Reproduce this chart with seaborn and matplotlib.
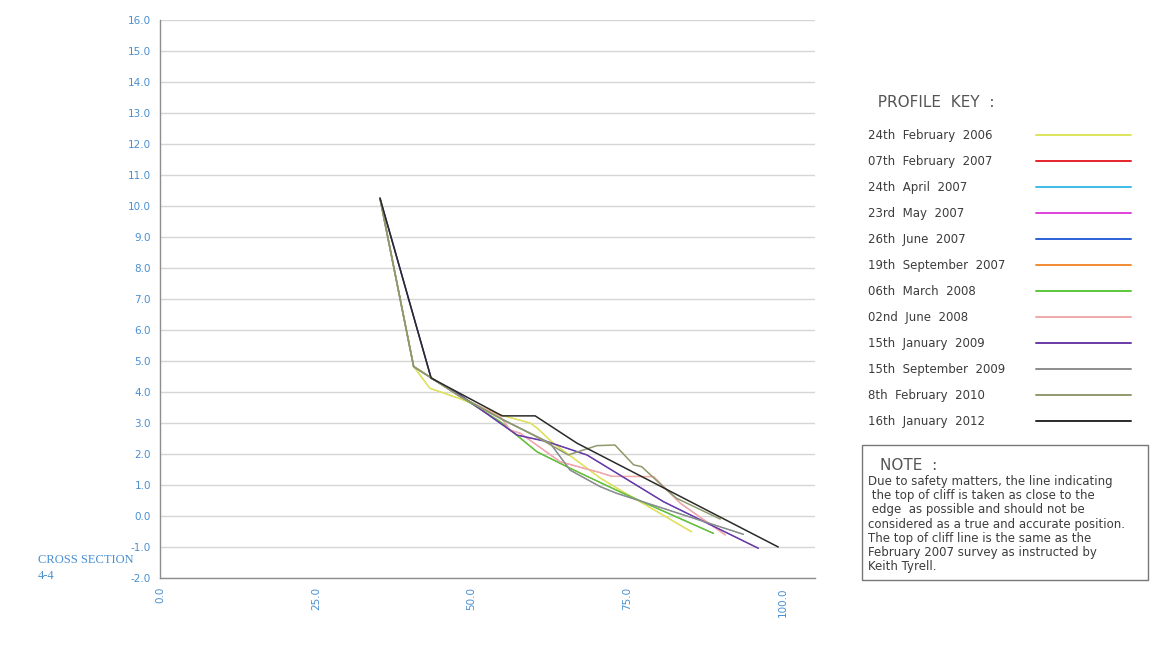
import numpy as np
import matplotlib
matplotlib.use("Agg")
import matplotlib.pyplot as plt
import seaborn as sns
from matplotlib.patches import Rectangle
from matplotlib.ticker import FormatStrFormatter

# Survey dates shown in the profile key
survey_labels = [
    "24th  February  2006",
    "07th  February  2007",
    "24th  April  2007",
    "23rd  May  2007",
    "26th  June  2007",
    "19th  September  2007",
    "06th  March  2008",
    "02nd  June  2008",
    "15th  January  2009",
    "15th  September  2009",
    "8th  February  2010",
    "16th  January  2012",
]
survey_colors = [
    "#dde55a", "#e3232b", "#3dbde6", "#e040dc", "#2b5fd6", "#f08c32",
    "#5cc63c", "#f0aaa8", "#6b3aa6", "#8c8c8c", "#8f9a6c", "#2a2a2a",
]

# Chainage (m) and level (m) along cross section 4-4 for each survey
x_2006_02 = [35.3, 40.7, 43.3, 48.2, 54.6, 59.4, 60.5, 63.1, 70.6, 73.8, 85.3]
y_2006_02 = [10.25, 4.82, 4.12, 3.78, 3.26, 3.00, 2.84, 2.35, 1.23, 0.84, -0.51]

x_2007_02 = [35.3, 40.7, 48.2, 54.6, 60.5, 65.8, 73.8, 88.8]
y_2007_02 = [10.25, 4.82, 3.85, 3.04, 2.07, 1.54, 0.78, -0.56]

x_2007_04 = [35.3, 40.7, 48.2, 54.6, 58.8, 62.6, 65.8, 70.6, 73.3, 93.6]
y_2007_04 = [10.25, 4.82, 3.85, 3.15, 2.73, 2.35, 1.48, 0.95, 0.73, -0.59]

x_2007_05 = [35.3, 40.7, 48.2, 54.6, 56.2, 57.8, 64.2, 70.6, 72.5, 79.2, 83.5, 90.7]
y_2007_05 = [10.25, 4.82, 3.85, 3.20, 2.77, 2.67, 1.75, 1.40, 1.28, 1.27, 0.41, -0.61]

x_2007_06 = [35.3, 43.5, 48.2, 57.3, 62.1, 68.5, 73.8, 80.8, 96.0]
y_2007_06 = [10.25, 4.45, 3.90, 2.61, 2.40, 1.97, 1.32, 0.46, -1.04]

x_2007_09 = [35.3, 40.7, 43.3, 48.2, 54.6, 59.4, 60.5, 63.1, 70.6, 73.8, 85.3]
y_2007_09 = [10.25, 4.82, 4.12, 3.78, 3.26, 3.00, 2.84, 2.35, 1.23, 0.84, -0.51]

x_2008_03 = [35.3, 40.7, 48.2, 54.6, 60.5, 65.8, 73.8, 88.8]
y_2008_03 = [10.25, 4.82, 3.85, 3.04, 2.07, 1.54, 0.78, -0.56]

x_2008_06 = [35.3, 40.7, 48.2, 54.6, 56.2, 57.8, 64.2, 70.6, 72.5, 79.2, 83.5, 90.7]
y_2008_06 = [10.25, 4.82, 3.85, 3.20, 2.77, 2.67, 1.75, 1.40, 1.28, 1.27, 0.41, -0.61]

x_2009_01 = [35.3, 43.5, 48.2, 57.3, 62.1, 68.5, 73.8, 80.8, 96.0]
y_2009_01 = [10.25, 4.45, 3.90, 2.61, 2.40, 1.97, 1.32, 0.46, -1.04]

x_2009_09 = [35.3, 40.7, 48.2, 54.6, 58.8, 62.6, 65.8, 70.6, 73.3, 93.6]
y_2009_09 = [10.25, 4.82, 3.85, 3.15, 2.73, 2.35, 1.48, 0.95, 0.73, -0.59]

x_2010_02 = [35.3, 40.7, 48.2, 54.6, 60.0, 65.5, 70.1, 73.0, 76.0, 77.3, 81.3, 82.9, 89.9]
y_2010_02 = [10.25, 4.82, 3.85, 3.15, 2.60, 1.97, 2.27, 2.29, 1.65, 1.59, 0.84, 0.57, -0.10]

x_2012_01 = [35.3, 43.5, 54.9, 60.2, 66.9, 99.2]
y_2012_01 = [10.25, 4.45, 3.23, 3.23, 2.35, -1.00]

profiles_x = [x_2006_02, x_2007_02, x_2007_04, x_2007_05, x_2007_06, x_2007_09,
              x_2008_03, x_2008_06, x_2009_01, x_2009_09, x_2010_02, x_2012_01]
profiles_y = [y_2006_02, y_2007_02, y_2007_04, y_2007_05, y_2007_06, y_2007_09,
              y_2008_03, y_2008_06, y_2009_01, y_2009_09, y_2010_02, y_2012_01]
# earlier surveys that coincide with later ones sit underneath, drawn thinner
profile_z = [3, 2, 2, 2, 2, 2, 3, 3, 3, 3, 3, 3]
profile_lw = [1.1, 0.6, 0.6, 0.6, 0.6, 0.6, 1.1, 1.1, 1.1, 1.1, 1.1, 1.1]

x_ticks = [0, 25, 50, 75, 100]
y_ticks = np.arange(-2, 16.5, 1.0)

sns.set_style("white")
plt.rcParams["font.family"] = ["DejaVu Sans"]

fig = plt.figure(figsize=(11.5, 6.51), dpi=100)
ax = fig.add_axes([160 / 1150, 1 - 578 / 651, (815 - 160) / 1150, (578 - 20) / 651])

handles = []
for xs, ys, col, lab, z, lw in zip(profiles_x, profiles_y, survey_colors, survey_labels,
                                   profile_z, profile_lw):
    n_before = len(ax.get_lines())
    sns.lineplot(x=xs, y=ys, ax=ax, color=col, sort=False, estimator=None,
                 linewidth=lw, zorder=z, legend=False)
    line = ax.get_lines()[n_before]
    line.set_label(lab)
    handles.append(line)
if ax.get_legend() is not None:
    ax.get_legend().remove()

ax.set_xlim(0, 105.1)
ax.set_ylim(-2, 16)
ax.set_xticks(x_ticks)
ax.set_yticks(y_ticks)
ax.xaxis.set_major_formatter(FormatStrFormatter("%.1f"))
ax.yaxis.set_major_formatter(FormatStrFormatter("%.1f"))
ax.set_xlabel("")
ax.set_ylabel("")
ax.grid(axis="y", color="#d6d6d6", linewidth=1.0)
ax.grid(axis="x", visible=False)
ax.set_axisbelow(True)
for side in ("top", "right"):
    ax.spines[side].set_visible(False)
for side in ("left", "bottom"):
    ax.spines[side].set_color("#8e8e8e")
    ax.spines[side].set_linewidth(1.0)
ax.tick_params(axis="both", direction="inout", length=7, width=1.0,
               color="#5b9bd5", labelcolor="#4a8fd0", labelsize=7.5, pad=3)
for lbl in ax.get_xticklabels():
    lbl.set_rotation(90)

# profile key: a text column and a line-sample column sharing the same rows
key_top = 1 - 95 / 651
key_kw = dict(loc="upper left", frameon=False, fontsize=8.5, labelspacing=1.1,
              borderpad=0, borderaxespad=0, title_fontsize=11, alignment="left")
key_text = fig.legend(handles=handles, labels=survey_labels,
                      bbox_to_anchor=(868 / 1150, key_top),
                      handlelength=0, handletextpad=0,
                      title="  PROFILE  KEY  :", **key_kw)
for t in key_text.get_texts():
    t.set_color("#3c3c3c")
key_text.get_title().set_color("#555555")
key_text._legend_box.sep = 14

key_lines = fig.legend(handles=handles, labels=[" "] * len(handles),
                       bbox_to_anchor=(1036 / 1150, key_top),
                       handlelength=8.05, handletextpad=0,
                       title=" ", **key_kw)
key_lines._legend_box.sep = 14
for h in key_lines.legend_handles:
    h.set_linewidth(1.4)

# note box
fig.patches.append(Rectangle((862 / 1150, 1 - 580 / 651), (1148 - 862) / 1150, (580 - 445) / 651,
                             transform=fig.transFigure, fill=False,
                             edgecolor="#777777", linewidth=1.0))
fig.text(880 / 1150, 1 - 466 / 651, "NOTE  :", fontsize=11, color="#555555", va="center")
note = ("Due to safety matters, the line indicating\n"
        " the top of cliff is taken as close to the\n"
        " edge  as possible and should not be\n"
        "considered as a true and accurate position.\n"
        "The top of cliff line is the same as the\n"
        "February 2007 survey as instructed by\n"
        "Keith Tyrell.")
fig.text(868 / 1150, 1 - 475 / 651, note, fontsize=8.5, color="#3c3c3c",
         va="top", ha="left", linespacing=1.12)

# section label
fig.text(38 / 1150, 1 - 560 / 651, "CROSS SECTION", family="Liberation Serif",
         fontsize=9, color="#4a8fd0", va="center")
fig.text(38 / 1150, 1 - 576 / 651, "4-4", family="Liberation Serif",
         fontsize=9, color="#4a8fd0", va="center")

fig.savefig("out.png", dpi=100)
